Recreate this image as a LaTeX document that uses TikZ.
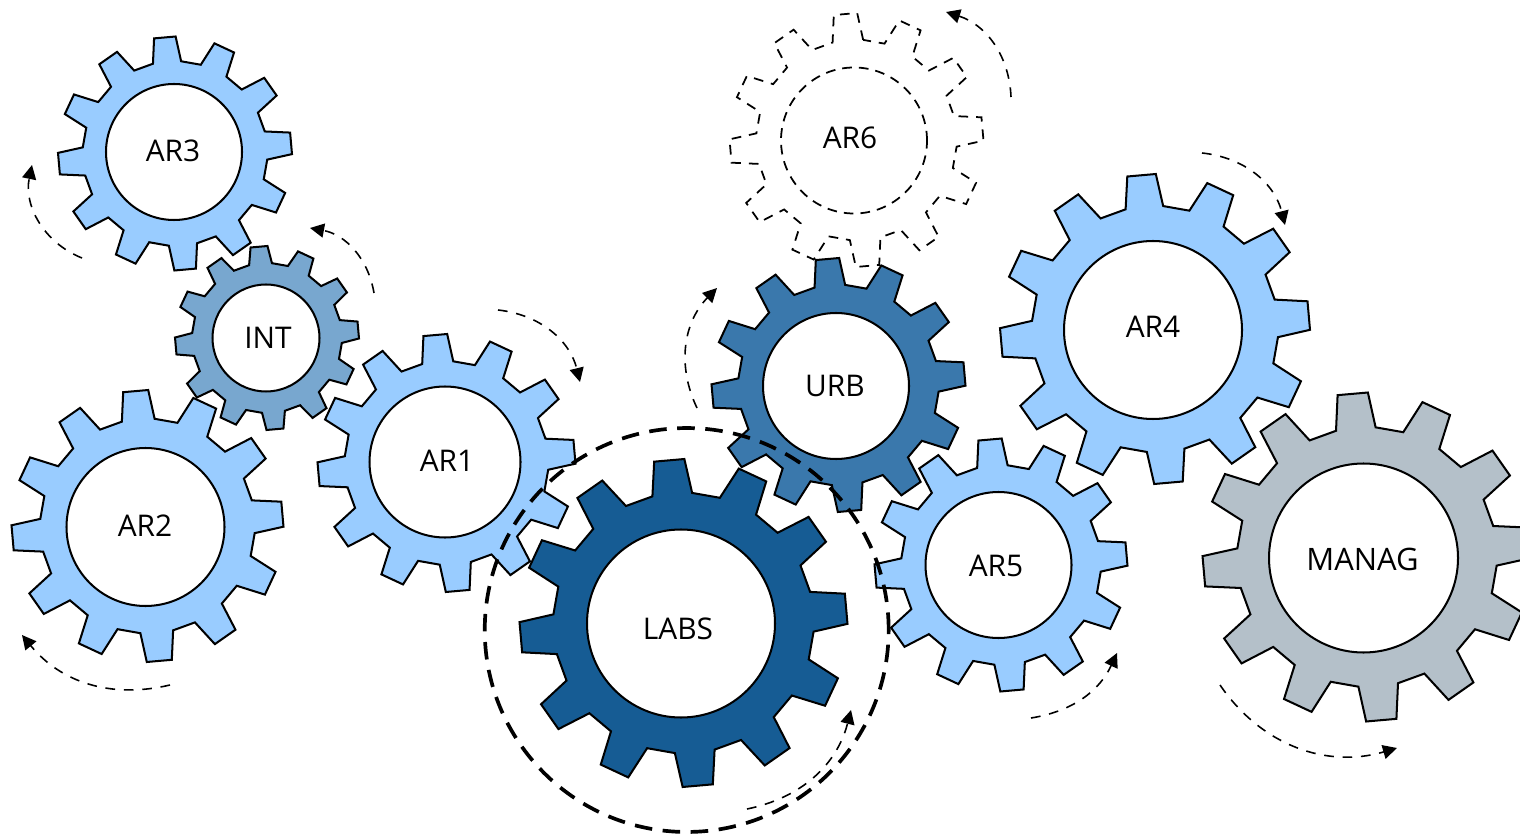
\documentclass[tikz,border=0pt]{standalone}
\usepackage{fontspec}
\setmainfont{Open Sans}
\usetikzlibrary{arrows.meta}
\definecolor{cAR}{HTML}{99CCFF}
\definecolor{cINT}{HTML}{78A7CF}
\definecolor{cURB}{HTML}{3A78AC}
\definecolor{cLABS}{HTML}{165C94}
\definecolor{cMAN}{HTML}{B4C0C9}
\tikzset{
  gearbody/.style={draw=black,line width=1.15pt,line join=miter},
  ghostbody/.style={draw=black,line width=1pt,dash pattern=on 5.5pt off 4.5pt},
  holeshape/.style={circle,draw=black,line width=1.15pt,fill=white,inner sep=0pt},
  ghosthole/.style={circle,draw=black,line width=1pt,dash pattern=on 5.5pt off 4pt,inner sep=0pt},
  gearlabel/.style={font=\fontsize{17}{20}\selectfont,text=black,inner sep=0pt},
  spin/.style={draw=black,line width=0.9pt,dash pattern=on 5.5pt off 5pt,-{Triangle[length=8pt,width=8pt]}},
  ring/.style={draw=black,line width=2.1pt,dash pattern=on 10pt off 6pt}
}
% #1 cx, #2 cy, #3 outer R, #4 root ratio, #5 style
\newcommand{\gearteeth}[5]{%
  \pgfmathsetmacro{\rr}{#4*#3}%
  \draw[#5,shift={(#1,-#2)}] (95-8.8:\rr)
    \foreach \k in {0,...,11}{
      -- ({95+30*\k-8.8}:\rr) -- ({95+30*\k-5.3}:#3) -- ({95+30*\k+5.3}:#3) -- ({95+30*\k+8.8}:\rr)
    } -- cycle;
}
% #1 name, #2 cx, #3 cy, #4 r, #5 style, #6 label, #7 label position
\newcommand{\gearhole}[7]{%
  \pgfmathsetmacro{\dd}{2*#4*0.02}%
  \node[#5,minimum size=\dd cm] (#1hole) at (#2,-#3) {};
  \node[gearlabel] (#1) at #7 {#6};
}
\begin{document}
\begin{tikzpicture}[x=0.02cm,y=0.02cm]
\useasboundingbox (0,-837) rectangle (1520,0);
\clip (0,-837) rectangle (1520,0);
\fill[white] (0,-837) rectangle (1520,0);
\gearteeth{175}{153.5}{117}{0.79}{gearbody,fill=cAR}
\gearhole{arthree}{174}{152}{68}{holeshape}{AR3}{(173,-151)}
\gearteeth{147.5}{526}{136}{0.79}{gearbody,fill=cAR}
\gearhole{artwo}{145.5}{527}{79}{holeshape}{AR2}{(145,-526)}
\gearteeth{267}{338}{92}{0.815}{gearbody,fill=cINT}
\gearhole{int}{266}{338}{53.5}{holeshape}{INT}{(268,-338)}
\gearteeth{446.5}{463}{129}{0.79}{gearbody,fill=cAR}
\gearhole{arone}{445}{462}{75.5}{holeshape}{AR1}{(447,-461)}
\gearteeth{856.5}{140}{127}{0.79}{ghostbody}
\gearhole{arsix}{854}{140.5}{73}{ghosthole}{AR6}{(850,-138)}
\gearteeth{838.5}{385}{127}{0.79}{gearbody,fill=cURB}
\gearhole{urb}{836}{386}{73}{holeshape}{URB}{(835,-386)}
\gearteeth{1155}{329}{155}{0.795}{gearbody,fill=cAR}
\gearhole{arfour}{1153}{330}{89}{holeshape}{AR4}{(1153,-327)}
\gearteeth{1001}{565}{126.5}{0.79}{gearbody,fill=cAR}
\gearhole{arfive}{998.5}{565}{73}{holeshape}{AR5}{(996,-566)}
\gearteeth{1367}{557}{164.5}{0.79}{gearbody,fill=cMAN}
\gearhole{manag}{1363.5}{558}{94.5}{holeshape}{\fontsize{17.6}{20}\selectfont MANAG}{(1362.5,-559)}
\gearteeth{683.5}{623}{164}{0.795}{gearbody,fill=cLABS}
\gearhole{labs}{681}{623.5}{94}{holeshape}{LABS}{(678,-629)}
\node[ring,circle,minimum size=8.08cm,inner sep=0pt] (labsring) at (686.7,-630) {};
\coordinate (a3s) at (82,-258); \coordinate (a3e) at (32,-165);
\coordinate (is) at (374,-293); \coordinate (ie) at (310,-228);
\coordinate (a1s) at (498,-310); \coordinate (a1e) at (580,-382);
\coordinate (a2s) at (170,-685); \coordinate (a2e) at (22,-635);
\coordinate (us) at (697,-408); \coordinate (ue) at (717,-288);
\coordinate (a6s) at (1011,-97); \coordinate (a6e) at (946,-12);
\coordinate (a4s) at (1202,-153); \coordinate (a4e) at (1285,-225);
\coordinate (a5s) at (1031,-718); \coordinate (a5e) at (1117,-653);
\coordinate (ls) at (747,-809); \coordinate (le) at (851,-710);
\coordinate (ms) at (1220,-685); \coordinate (me) at (1397,-748);
\draw[spin] (a3s) to[bend left=40] (a3e);
\draw[spin] (is) to[bend right=35] (ie);
\draw[spin] (a1s) to[bend left=35] (a1e);
\draw[spin] (a2s) to[bend left=32] (a2e);
\draw[spin] (us) to[bend left=35] (ue);
\draw[spin] (a6s) to[bend right=35] (a6e);
\draw[spin] (a4s) to[bend left=35] (a4e);
\draw[spin] (a5s) to[bend right=28] (a5e);
\draw[spin] (ls) to[bend right=32] (le);
\draw[spin] (ms) to[bend right=36] (me);
\end{tikzpicture}
\end{document}
